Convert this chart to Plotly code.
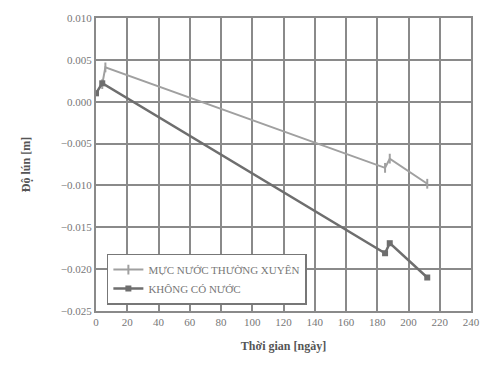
import plotly.graph_objects as go

days_1 = [4, 6, 185, 188, 212]
settle_1 = [0.0021, 0.0041, -0.0079, -0.0068, -0.0098]
days_2 = [0, 4, 185, 188, 212]
settle_2 = [0.0010, 0.0022, -0.0181, -0.0169, -0.0210]
name_1 = "MỰC NƯỚC THƯỜNG XUYÊN"
name_2 = "KHÔNG CÓ NƯỚC"

SERIF = "Liberation Serif"
GRID = "#8a8a8a"

fig = go.Figure()
fig.add_trace(go.Scatter(x=days_1, y=settle_1, mode="lines+markers", name=name_1,
                         line=dict(color="#a0a0a0", width=2),
                         marker=dict(symbol="line-ns", size=7, color="#a0a0a0",
                                     line=dict(color="#a0a0a0", width=2))))
fig.add_trace(go.Scatter(x=days_2, y=settle_2, mode="lines+markers", name=name_2,
                         line=dict(color="#6e6e6e", width=2.5),
                         marker=dict(symbol="square", size=6, color="#6e6e6e")))

fig.update_layout(
    width=492, height=366,
    margin=dict(l=96, r=13, t=15, b=55),
    plot_bgcolor="white",
    font=dict(family=SERIF, size=11, color="#777"),
    showlegend=True,
)
fig.update_xaxes(range=[0, 240], dtick=20, showgrid=True, gridcolor=GRID, gridwidth=2,
                 zeroline=False, showline=True, linecolor=GRID, linewidth=2, mirror=True,
                 title=dict(text="<b>Thời gian [ngày]</b>", font=dict(size=12, color="#555"), standoff=14))
fig.update_yaxes(range=[-0.025, 0.010], dtick=0.005, tickformat=".3f", showgrid=True,
                 gridcolor=GRID, gridwidth=2, zeroline=False, showline=True,
                 linecolor=GRID, linewidth=2, mirror=True,
                 title=dict(text="<b>Độ lún [m]</b>", font=dict(size=12, color="#555"), standoff=28))
fig.update_layout(legend=dict(x=0.029, y=0.196, xanchor="left", yanchor="top", bgcolor="white",
                              bordercolor="#777", borderwidth=1.5, tracegroupgap=2))
fig.write_html("out.html")
